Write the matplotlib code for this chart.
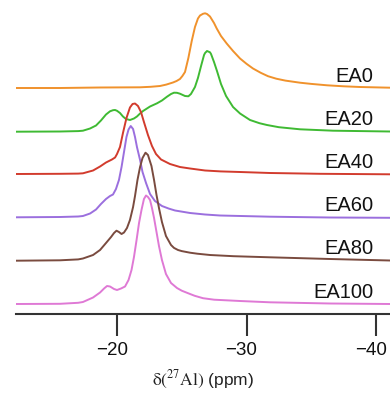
import numpy as np
import matplotlib
matplotlib.use("Agg")
import matplotlib.pyplot as plt
from matplotlib.transforms import ScaledTranslation

plt.rcParams['font.family'] = ['Liberation Sans', 'DejaVu Sans']
plt.rcParams['mathtext.fontset'] = 'stix'

# 27Al MAS NMR spectra, chemical shift (ppm) vs intensity (a.u.)
ppm_ea0 = [-12.2, -15.6, -18.69, -21.78, -22.6, -23.32, -23.8, -24.32, -24.6, -24.86,
           -25.05, -25.25, -25.51, -25.77, -26.02, -26.25, -26.41, -26.64, -26.8, -26.95,
           -27.18, -27.49, -27.7, -28.03, -28.47, -28.96, -29.5, -30.0, -30.5, -31.1,
           -31.66, -32.3, -33.0, -34.13, -35.0, -36.22, -37.5, -38.76, -41.08]
int_ea0 = [0, 0, 0.5, 0.7, 1.2, 2, 3.4, 5.5, 7, 9,
           12, 16, 30, 47, 61, 69.5, 72.5, 74.2, 74.7, 74,
           71.5, 65, 59.5, 52, 44.5, 37, 29.5, 24.2, 19.5, 15.2,
           11.8, 9.3, 7.4, 5.3, 4.1, 2.7, 1.7, 1, 0.3]

ppm_ea20 = [-12.2, -15.6, -17.0, -17.37, -17.92, -18.38, -18.76, -19.15, -19.46, -19.69,
            -19.85, -20.0, -20.23, -20.46, -20.69, -21.0, -21.31, -21.54, -21.78, -22.01,
            -22.55, -23.09, -23.47, -23.86, -24.17, -24.4, -24.63, -24.86, -25.25, -25.51,
            -25.71, -26.02, -26.25, -26.49, -26.72, -26.8, -26.95, -27.18, -27.26, -27.49,
            -27.72, -28.03, -28.42, -28.96, -29.5, -30.27, -31.0, -31.58, -32.5, -34.13,
            -36.68, -41.08]
int_ea20 = [0, 0.2, 0.6, 1, 3.2, 6.2, 11.2, 17.2, 20.4, 21.5,
            21.7, 20.9, 18.7, 15.2, 12.7, 11.7, 13.2, 15.2, 18.2, 20.7,
            25.2, 28.4, 31.2, 35, 37.7, 39, 38.9, 38, 35.7, 35.4,
            37.7, 44.7, 53.7, 65.7, 76.7, 78.7, 80.7, 79.4, 77.7, 69.7,
            60.7, 47.7, 35.7, 24.7, 18.2, 11.7, 8.5, 6.7, 4.5, 2.4,
            1, 0.2]

ppm_ea40 = [-12.2, -15.6, -17.0, -17.37, -18.15, -18.69, -19.15, -19.61, -19.85, -20.0,
            -20.23, -20.46, -20.73, -21.0, -21.2, -21.39, -21.62, -21.85, -22.08, -22.39,
            -22.7, -23.01, -23.4, -24.09, -24.86, -25.64, -26.8, -28.0, -29.5, -31.81,
            -35.68, -41.08]
int_ea40 = [0, 0.2, 0.4, 0.7, 3.5, 7.5, 11.5, 14.5, 16.5, 20,
            27, 41, 56, 66.5, 70, 70.5, 68, 62, 52, 39,
            28, 20, 14.5, 10, 7, 5.5, 3.5, 2.6, 2, 1,
            0.2, -0.3]

ppm_ea60 = [-12.2, -15.6, -17.0, -17.37, -17.92, -18.38, -18.76, -19.15, -19.46, -19.69,
            -19.92, -20.15, -20.35, -20.54, -20.73, -20.89, -21.06, -21.24, -21.39, -21.54,
            -21.78, -21.97, -22.24, -22.55, -22.93, -23.47, -24.0, -24.48, -25.64, -26.8,
            -27.95, -31.81, -36.45, -41.08]
int_ea60 = [0, 0.3, 0.8, 1.3, 3.8, 7.8, 13.3, 18.3, 21.3, 22.8,
            28.3, 37.3, 50.3, 65.3, 80.3, 87.8, 91.3, 88.3, 80.3, 70.3,
            57.3, 45.3, 34.3, 23.3, 16.3, 11.3, 8.7, 6.8, 4.3, 2.8,
            1.8, 0.6, -0.2, -0.5]

ppm_ea80 = [-12.2, -15.6, -17.0, -17.37, -18.15, -18.69, -19.15, -19.54, -19.77, -19.96,
            -20.15, -20.35, -20.54, -20.77, -21.0, -21.24, -21.39, -21.58, -21.78, -21.97,
            -22.2, -22.39, -22.66, -22.86, -23.05, -23.24, -23.47, -23.78, -24.17, -24.4,
            -24.71, -25.0, -25.64, -26.2, -27.18, -29.0, -31.81, -36.45, -41.08]
int_ea80 = [0, 0.4, 1.3, 2.2, 5.7, 10.7, 17.7, 23.7, 27.7, 30,
            28.7, 26.7, 28.2, 32.7, 40.7, 53.7, 64.7, 80.7, 93.7, 102.7,
            108, 105.7, 94.7, 80.7, 65.7, 52.7, 38.7, 24.7, 15.7, 12.8,
            10.7, 9.6, 8, 7, 5.7, 4.5, 3.4, 1.7, 0.2]

ppm_ea100 = [-12.2, -15.6, -17.0, -17.37, -18.15, -18.69, -19.0, -19.23, -19.46, -19.77,
             -20.0, -20.31, -20.62, -20.89, -21.12, -21.31, -21.51, -21.7, -21.89, -22.08,
             -22.24, -22.39, -22.55, -22.7, -22.86, -23.05, -23.24, -23.47, -23.78, -24.17,
             -24.63, -25.0, -25.64, -26.0, -26.64, -27.5, -29.5, -31.81, -36.45, -41.08]
int_ea100 = [0, 0.2, 1.2, 2, 6.5, 11.5, 15.5, 18, 17.5, 15,
             14, 15.5, 17.5, 24, 34, 47, 64, 81, 94, 105,
             108.5, 107, 104, 96, 86, 72, 58, 44, 30, 21,
             16, 13.3, 10, 8.2, 5.8, 4.3, 3, 1.7, 0.5, 0]

names = ['EA0', 'EA20', 'EA40', 'EA60', 'EA80', 'EA100']
shifts = [ppm_ea0, ppm_ea20, ppm_ea40, ppm_ea60, ppm_ea80, ppm_ea100]
spectra = [int_ea0, int_ea20, int_ea40, int_ea60, int_ea80, int_ea100]
offsets = [226, 182.3, 140, 96.7, 53.3, 10]
colors = ['#f0922c', '#3fba33', '#d23b2d', '#9b6fde', '#7a4b3f', '#df79d5']

fig = plt.figure(figsize=(3.9, 3.95), dpi=100)
ax = fig.add_axes([16 / 390, 81 / 395, 374 / 390, 314 / 395])

for name, x, y, off, c in zip(names, shifts, spectra, offsets, colors):
    ax.plot(x, np.array(y) + off, color=c, lw=1.4, solid_joinstyle='round',
            solid_capstyle='round')
    ax.text(-39.77, off + 12, name, ha='right', va='center', fontsize=14.5, color='#111111')

ax.set_xlim(-12.2, -41.08)
ax.set_ylim(0, 314)
ax.set_yticks([])
ax.set_xticks([-20, -30, -40])
ax.set_xticklabels(['\u221220', '\u221230', '\u221240'])
for s in ['top', 'left', 'right']:
    ax.spines[s].set_visible(False)
ax.spines['bottom'].set_linewidth(1.5)
ax.spines['bottom'].set_color('#333333')
ax.tick_params(axis='x', direction='out', length=16, width=1.5, color='#333333',
               labelsize=13.5, pad=4, labelcolor='#111111')
# tick labels sit a little left of their ticks
shift = ScaledTranslation(-5 / 100, 0, fig.dpi_scale_trans)
for lbl in ax.get_xticklabels():
    lbl.set_transform(lbl.get_transform() + shift)
ax.set_xlabel(r'$\mathrm{\delta(^{27}Al)}$ (ppm)', fontsize=12.5, labelpad=7, color='#222222')

fig.savefig('out.png', dpi=100)
